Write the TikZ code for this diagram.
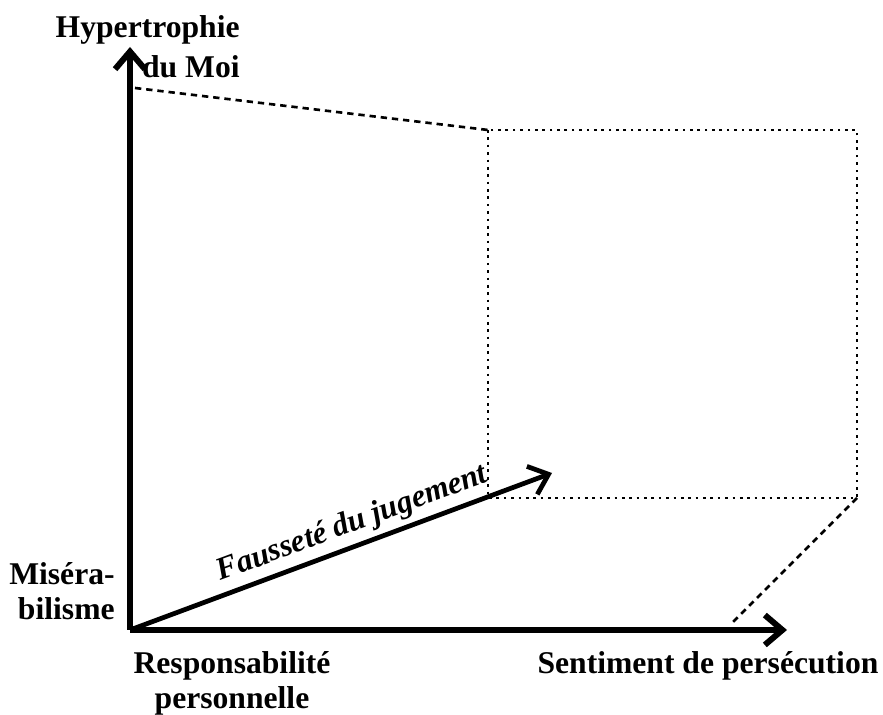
\documentclass[tikz,border=0pt]{standalone}
\usepackage{fontspec}
\setmainfont{Liberation Serif}
\usetikzlibrary{arrows.meta}
\tikzset{
  axis/.style={line width=3.4pt, -{Straight Barb[length=10pt,width=17pt]}},
  lbl/.style={font=\fontsize{18}{20}\selectfont\bfseries, inner sep=0pt, align=center},
  dotline/.style={line width=1.5pt, dash pattern=on 1.5pt off 2.7pt},
  dashline/.style={line width=1.5pt, dash pattern=on 3.6pt off 2.8pt},
}
\begin{document}
\begin{tikzpicture}
\useasboundingbox (-2.6,-1.7) rectangle (15.06,12.6);
% axes
\coordinate (O) at (0,0);
\coordinate (ytip) at (0,11.66);
\coordinate (xtip) at (13.14,0);
\coordinate (ztip) at (8.44,3.14);
\draw[axis] (O) -- (ytip);
\draw[axis] (O) -- (xtip);
\draw[axis, line width=2.7pt] (O) -- (ztip)
  node[pos=0.545, above=3pt, sloped, inner sep=0pt, font=\fontsize{18}{20}\selectfont\bfseries\itshape] (zname) {Fausseté du jugement};

% box and projections
\coordinate (rtl) at (7.16,10.0);
\coordinate (rbr) at (14.54,2.64);
\coordinate (yend) at (0.1,10.84);
\coordinate (xend) at (12.0,0.1);
\draw[dotline] (rtl) rectangle (rbr);
\draw[dashline] (yend) -- (rtl);
\draw[dashline] (rbr) -- (xend);

% labels
\node[lbl, align=right, anchor=north east, font=\fontsize{18}{22.7}\selectfont\bfseries] (ylbl) at (2.2,12.3) {Hypertrophie\\du Moi};
\node[lbl, align=right, anchor=east] (mlbl) at (-0.3,0.78) {Miséra-\\bilisme};
\node[lbl, anchor=north] (olbl) at (2.04,-0.42) {Responsabilité\\personnelle};
\node[lbl, anchor=north] (xlbl) at (11.56,-0.42) {Sentiment de persécution};
\end{tikzpicture}
\end{document}
